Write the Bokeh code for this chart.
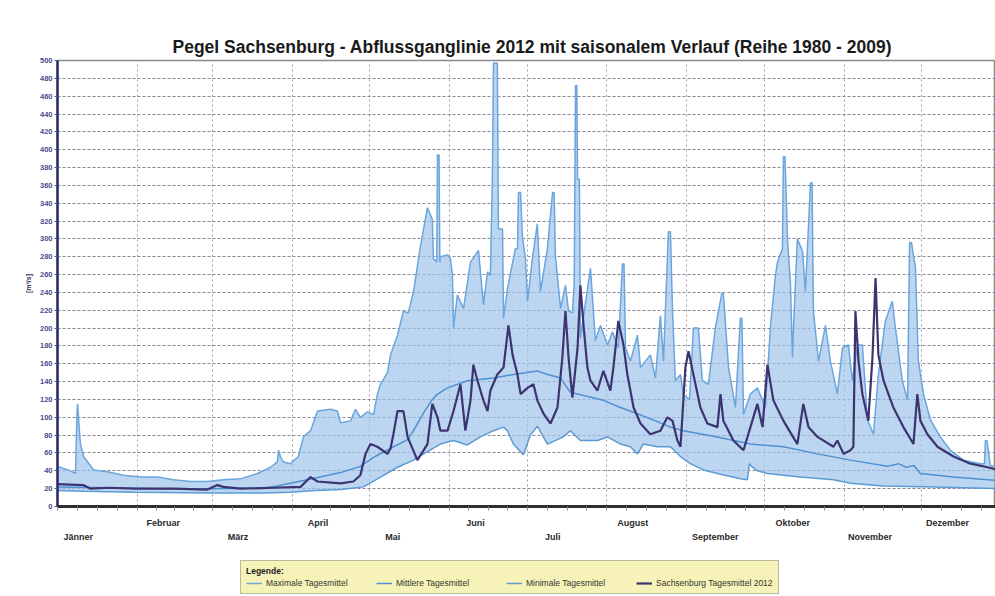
from bokeh.plotting import figure
from bokeh.models import FixedTicker, Legend, LegendItem, Range1d
from bokeh.layouts import column
from bokeh.embed import file_html
from bokeh.resources import INLINE

title_text = "Pegel Sachsenburg - Abflussganglinie 2012 mit saisonalem Verlauf (Reihe 1980 - 2009)"
month_names = ["Jänner", "Februar", "März", "April", "Mai", "Juni", "Juli",
               "August", "September", "Oktober", "November", "Dezember"]
month_days = [31, 29, 31, 30, 31, 30, 31, 31, 30, 31, 30, 31]
month_label_day = [8, 41, 70, 101, 130, 162, 192, 223, 255, 285, 315, 345]
y_ticks = list(range(0, 501, 20))

# Maximale Tagesmittel (day of year, m3/s)
max_day = [0, 5, 7, 7.5, 7.8, 8.6, 8.9, 10.1, 14, 19.4, 25.6, 32.2, 38.8, 45, 51.6, 58.1, 64.3,
           70.9, 77.5, 82.6, 85.2, 85.7, 86.5, 87.6, 90.3, 93.4, 95.3, 98.1, 100.8, 105.8,
           108.5, 109.7, 113.6, 115.5, 117.4, 120.2, 122.5, 124, 125.2, 127.9, 129.1, 131.8,
           134.1, 136, 138, 140.7, 141.9, 143.4, 145.3, 145.7, 147.0, 147.3, 147.9, 148.2,
           148.4, 151.2, 152.3, 153.1, 153.5, 155, 157.4, 160.1, 163.2, 165.1, 166.7, 167.8,
           168.6, 169.0, 170.5, 170.9, 172.5, 172.9, 174.4, 177.5, 178.3, 178.7, 179.5, 180.2,
           181.4, 182.2, 184.1, 186.0, 187.2, 189.9, 191.9, 192.5, 193, 195, 196.9, 198.1,
           199.6, 200.3, 200.8, 201.3, 201.6, 202.3, 202.7, 206.6, 208.5, 210.5, 213.2, 215.1,
           217.4, 219.0, 219.6, 220.2, 222.1, 224.8, 226.0, 229.8, 231.8, 233.7, 234.9, 236.8,
           237.6, 238.4, 239.5, 241.5, 242.6, 245, 246.5, 248.4, 250.0, 252.3, 255.0, 257.5,
           258.1, 260.1, 262.8, 264.7, 265.3, 265.9, 268.6, 271.3, 274.4, 276.4, 278.3, 279.1,
           281.0, 281.4, 282.0, 283.0, 284.1, 284.9, 285.3, 286.8, 288.8, 289.9, 291.9, 292.5,
           293.0, 295.0, 297.7, 299.6, 302.3, 304.3, 306.6, 308.1, 310.1, 312.0, 314.0, 316.3,
           318.2, 320.9, 323.6, 324.8, 327.5, 329.5, 330.3, 331.0, 332.6, 333.7, 335.7, 338.4,
           342.2, 346.1, 351.2, 357.8, 359.3, 359.7, 360.3, 361.6, 366]
max_val = [45, 40, 37, 100, 115, 80, 70, 56, 41, 39, 35, 33, 33, 30, 28, 28, 30,
           31, 37, 44, 50, 63, 55, 50, 48, 56, 78, 85, 107, 109,
           107, 94, 96, 109, 100, 106, 103, 126, 137, 150, 170, 192,
           219, 217, 241, 292, 311, 335, 322, 278, 274, 394, 394, 274,
           280, 282, 278, 259, 200, 237, 222, 274, 287, 226, 263, 259,
           374, 497, 497, 311, 311, 211, 244, 289, 289, 352, 352, 303,
           278, 230, 278, 317, 241, 289, 352, 352, 281, 222, 248, 219,
           217, 250, 472, 472, 367, 367, 189, 267, 186, 203, 181, 196,
           178, 272, 272, 178, 163, 192, 156, 170, 144, 214, 163, 308,
           308, 219, 141, 148, 125, 120, 200, 200, 141, 137, 200, 239,
           239, 156, 111, 211, 211, 103, 126, 133, 111, 203, 259, 274,
           289, 392, 392, 297, 252, 167, 200, 300, 286, 241, 363, 363,
           219, 163, 203, 163, 126, 178, 181, 141, 181, 181, 97, 81,
           148, 208, 230, 200, 141, 119, 296, 296, 267, 163, 126, 97,
           78, 63, 52, 48, 48, 74, 74, 46, 43]

# Mittlere Tagesmittel
mean_day = [0, 20, 40, 60, 80, 85, 96.9, 109.7, 117.4, 122.5, 129, 135.7, 138, 141.9, 145.3,
            147.3, 151.2, 158.9, 169, 176.7, 186, 190, 195, 198.8, 211.6, 218.2, 224.8, 231.8,
            237.6, 242.6, 255.8, 268.6, 281.4, 294.6, 307.4, 321.7, 326, 329, 332, 334.5,
            347.3, 360.5, 366]
mean_val = [22, 21, 20, 20, 21, 23, 30, 38, 45, 55, 65, 75, 85, 105, 120,
            126, 133, 141, 144, 148, 152, 148, 144, 128, 119, 111, 104, 96,
            89, 85, 78, 70, 67, 59, 52, 45, 48, 44, 46, 37,
            33, 30, 29]

# Minimale Tagesmittel
min_day = [0, 10, 30, 60, 80, 90, 100, 110, 118.6, 125.2, 131.8, 138, 141.9, 148.4, 153.5,
           158.9, 163.9, 169, 172.9, 174.4, 176.7, 180.6, 183.3, 186, 189.9, 196.1, 198.8,
           202.7, 209.3, 213.2, 218.2, 222.1, 224.8, 227.1, 232.6, 237.6, 241.5, 245.3, 250.4,
           255.8, 264.7, 267.4, 268.2, 269, 271.3, 275.2, 288, 300.8, 307.4, 320, 340, 366]
min_val = [18, 17, 16, 15, 15, 16, 18, 19, 22, 33, 44, 52, 59, 70, 74,
           69, 78, 85, 89, 85, 70, 58, 80, 90, 70, 78, 85,
           74, 74, 78, 70, 67, 59, 70, 67, 67, 56, 48, 41,
           37, 31, 30, 48, 45, 40, 37, 33, 30, 26, 23, 22, 20]

# Sachsenburg Tagesmittel 2012
y2012_day = [0, 10, 12.8, 20, 30, 45, 58.1, 62, 64.3, 70.9, 83.7, 94.2, 98.1, 100.8, 109.7,
             114.7, 117.4, 119.4, 121.3, 124.0, 127.9, 129.1, 130.2, 131.8, 134.1, 135.7,
             139.5, 141.9, 143.4, 145.3, 147.3, 148.4, 151.2, 153.5, 156.2, 158.1, 160.1,
             161.2, 162.8, 165.1, 166.7, 167.8, 170.5, 172.9, 174.8, 176.4, 178.3, 179.5,
             182.2, 184.5, 186.0, 188.4, 191.1, 193.8, 195.7, 196.9, 198.1, 199.6, 201.6,
             202.7, 203.9, 205.4, 206.6, 209.3, 211.6, 214.3, 215.5, 217.4, 219.4, 220.9,
             223.3, 226.0, 229.8, 233.7, 236.4, 238.4, 240.3, 241.5, 243.4, 244.6, 246.5,
             249.2, 251.9, 255.8, 257.0, 258.1, 262.0, 265.9, 268.6, 271.3, 273.3, 275.2,
             277.5, 281.4, 286.8, 289.1, 291.1, 294.6, 300.8, 302.3, 304.7, 307.4, 308.5,
             309.3, 310.5, 312.0, 314.3, 315.9, 317.1, 318.2, 320.2, 324.0, 327.9, 331.8,
             333.3, 334.5, 337.2, 341.1, 347.3, 353.9, 360.5, 366]
y2012_val = [25, 24, 20, 21, 20, 20, 19, 24, 22, 20, 21, 22, 33, 28, 26,
             28, 35, 59, 70, 67, 59, 65, 81, 107, 107, 78,
             52, 63, 70, 115, 100, 85, 85, 107, 137, 85, 119,
             159, 141, 119, 107, 130, 148, 156, 203, 170, 148, 126,
             133, 137, 119, 104, 93, 111, 167, 219, 167, 122, 178,
             248, 203, 156, 141, 130, 152, 130, 156, 208, 181, 148,
             111, 93, 81, 85, 100, 96, 74, 67, 156, 174, 148,
             111, 93, 89, 126, 96, 74, 63, 89, 115, 89, 159,
             119, 96, 70, 115, 89, 78, 67, 74, 59, 63, 67,
             219, 163, 126, 96, 167, 256, 170, 141, 111, 89, 70,
             126, 96, 81, 67, 56, 48, 44, 40]

legend_labels = ["Maximale Tagesmittel", "Mittlere Tagesmittel", "Minimale Tagesmittel",
                 "Sachsenburg Tagesmittel 2012"]

FONT = "Liberation Sans"
C_MAX, C_MEAN, C_MIN, C_2012 = "#6aa5de", "#4f90d2", "#5b9bd5", "#3c3470"

month_starts = [0]
for d in month_days:
    month_starts.append(month_starts[-1] + d)
minor = list(month_starts)
for i, d in enumerate(month_days):
    for k in (1, 2, 3):
        minor.append(month_starts[i] + d * k / 4.0)

p = figure(width=995, height=545, output_backend="svg", toolbar_location=None,
           x_range=Range1d(0, 363.6), y_range=Range1d(0, 500),
           min_border_left=57, min_border_right=0, min_border_top=60, min_border_bottom=35)
p.background_fill_color = "white"
p.border_fill_color = "white"
p.outline_line_color = "#8a8a8a"
p.outline_line_width = 1.5

p.title.text = title_text
p.title.text_font = FONT
p.title.text_font_size = "17.5px"
p.title.text_font_style = "bold"
p.title.text_color = "#1a1a1a"
p.title.align = "left"
p.title.offset = 115
p.title.standoff = 7

# x axis: month names (two staggered rows), ticks at month starts / quarter months
p.xaxis.ticker = FixedTicker(ticks=month_label_day, minor_ticks=minor)
p.xaxis.major_label_overrides = {
    d: (name if i % 2 == 1 else "\n" + name)
    for i, (d, name) in enumerate(zip(month_label_day, month_names))}
p.xaxis.major_label_text_font = FONT
p.xaxis.major_label_text_font_size = "9px"
p.xaxis.major_label_text_font_style = "bold"
p.xaxis.major_label_text_color = "#2a2a2a"
p.xaxis.major_label_text_line_height = 1.45
p.xaxis.major_label_standoff = 7
p.xaxis.axis_line_color = "#2e2e2e"
p.xaxis.axis_line_width = 3
p.xaxis.major_tick_line_color = None
p.xaxis.major_tick_out = 0
p.xaxis.major_tick_in = 0
p.xaxis.minor_tick_line_color = "#888888"
p.xaxis.minor_tick_out = 4
p.xaxis.minor_tick_in = 0

p.yaxis.ticker = FixedTicker(ticks=y_ticks)
p.yaxis.axis_line_color = "#2a2a6a"
p.yaxis.axis_line_width = 2.5
p.yaxis.major_tick_line_color = "#555577"
p.yaxis.major_tick_out = 3
p.yaxis.major_tick_in = 0
p.yaxis.minor_tick_line_color = None
p.yaxis.major_label_text_font = FONT
p.yaxis.major_label_text_font_size = "7.5px"
p.yaxis.major_label_text_font_style = "bold"
p.yaxis.major_label_text_color = "#4a4a8c"
p.yaxis.major_label_standoff = 2
p.yaxis.axis_label = "[m³/s]"
p.yaxis.axis_label_text_font = FONT
p.yaxis.axis_label_text_font_size = "7px"
p.yaxis.axis_label_text_font_style = "bold"
p.yaxis.axis_label_text_color = "#333355"
p.yaxis.axis_label_standoff = 5

p.ygrid.ticker = FixedTicker(ticks=y_ticks)
p.ygrid.grid_line_color = "#8a8498"
p.ygrid.grid_line_dash = "3 2"
p.ygrid.grid_line_width = 1
p.xgrid.ticker = FixedTicker(ticks=month_starts)
p.xgrid.grid_line_color = "#9a9aa6"
p.xgrid.grid_line_dash = "2 3"
p.xgrid.grid_line_width = 1

# band between min and max
band_x = list(max_day) + list(reversed(min_day))
band_y = list(max_val) + list(reversed(min_val))
p.patch(band_x, band_y, fill_color="#a0c4eb", fill_alpha=0.7, line_color=None)

p.line(max_day, max_val, line_color=C_MAX, line_width=1.5)
p.line(mean_day, mean_val, line_color=C_MEAN, line_width=1.5)
p.line(min_day, min_val, line_color=C_MIN, line_width=1.5)
p.line(y2012_day, y2012_val, line_color=C_2012, line_width=2.2)

# legend strip below the chart (its series lie outside this strip's ranges)
q = figure(width=995, height=51, output_backend="svg", toolbar_location=None,
           x_range=Range1d(0, 1), y_range=Range1d(-2, -1), min_border=0)
q.axis.visible = False
q.grid.visible = False
q.outline_line_color = None
q.background_fill_color = "white"
q.border_fill_color = "white"
l_max = q.line(max_day, max_val, line_color=C_MAX, line_width=1.5)
l_mean = q.line(mean_day, mean_val, line_color=C_MEAN, line_width=1.5)
l_min = q.line(min_day, min_val, line_color=C_MIN, line_width=1.5)
l_2012 = q.line(y2012_day, y2012_val, line_color=C_2012, line_width=2.2)

legend = Legend(items=[LegendItem(label=legend_labels[0], renderers=[l_max]),
                       LegendItem(label=legend_labels[1], renderers=[l_mean]),
                       LegendItem(label=legend_labels[2], renderers=[l_min]),
                       LegendItem(label=legend_labels[3], renderers=[l_2012])],
                orientation="horizontal", location=(183, 2),
                title="Legende:", title_text_font=FONT, title_text_font_size="8.5px",
                title_text_font_style="bold", title_text_color="#222222", title_standoff=2,
                label_text_font=FONT, label_text_font_size="8.5px", label_text_color="#333333",
                glyph_width=16, glyph_height=8, label_height=9, label_standoff=4,
                label_width=110, spacing=0, padding=5, margin=0,
                background_fill_color="#f7f3b8", background_fill_alpha=1,
                border_line_color="#808080", border_line_width=1.5)
q.add_layout(legend)

open("out.html", "w").write(file_html(column(p, q), INLINE))
